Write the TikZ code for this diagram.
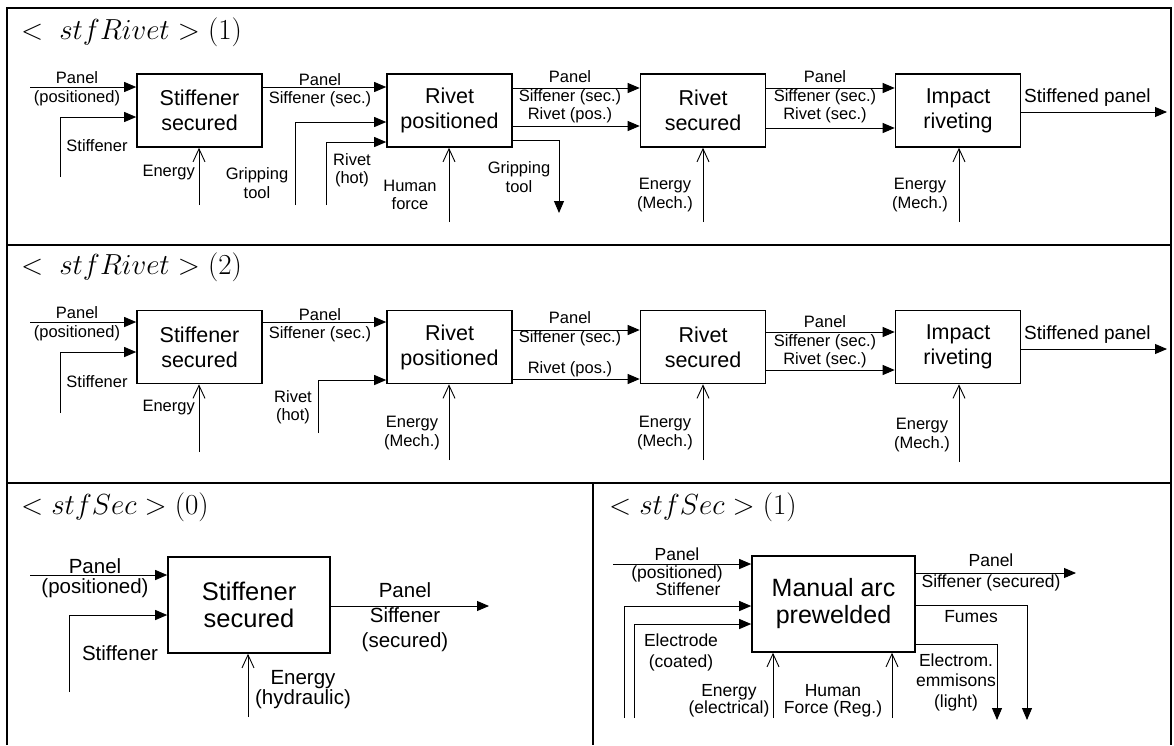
\RequirePackage{fix-cm}
\documentclass[tikz,border=0pt]{standalone}
\usepackage{fontspec}
\setmainfont{Liberation Sans}
\usetikzlibrary{arrows.meta}

\begin{document}
\begin{tikzpicture}[x=1pt, y=-1pt,
    frame/.style={line width=2pt},
    title/.style={anchor=west, inner sep=0pt, font=\fontsize{29}{34}\selectfont},
    proc/.style={draw, line width=1.6pt, align=center, inner sep=0pt,
      minimum width=125pt, minimum height=73pt, font=\fontsize{21.5}{25}\selectfont},
    lbl/.style={align=center, inner sep=0pt, font=\fontsize{16.5}{18.5}\selectfont},
    flow/.style={line width=0.9pt, -{Triangle[length=12pt,width=10pt]}},
    ctrl/.style={line width=0.9pt, -{Straight Barb[length=13pt,width=12pt]}}]
    \useasboundingbox (0,0) rectangle (1174,745);

    % Frame
    \draw[frame] (7,745) -- (7,8) -- (1171,8) -- (1171,745);
    \draw[frame] (7,245) -- (1171,245);
    \draw[frame] (7,483) -- (1171,483);
    \draw[frame] (593,483) -- (593,745);

    % Titles
    \node[title] (t1) at (21,32) {$<\ stfRivet > (1)$};
    \node[title] (t2) at (21,267) {$<\ stfRivet > (2)$};
    \node[title] (t3) at (21,507) {$< stfSec > (0)$};
    \node[title] (t4) at (609,507) {$< stfSec > (1)$};

    % Coordinates
    \coordinate (r1p) at (30,87);
    \coordinate (r1s) at (60,177);
    \coordinate (r1e1) at (199,205);
    \coordinate (r1g) at (295,205);
    \coordinate (r1r) at (326,205);
    \coordinate (r1e2) at (449,222);
    \coordinate (r1go) at (559,213);
    \coordinate (r1e3) at (703,222);
    \coordinate (r1e4) at (959,222);
    \coordinate (r1o) at (1167,112);

    \coordinate (r2p) at (30,322);
    \coordinate (r2s) at (60,413);
    \coordinate (r2e1) at (199,452);
    \coordinate (r2r) at (318,433);
    \coordinate (r2e2) at (449,460);
    \coordinate (r2e3) at (703,460);
    \coordinate (r2e4) at (959,462);
    \coordinate (r2o) at (1167,349);

    \coordinate (r3p) at (30,575);
    \coordinate (r3s) at (69,692);
    \coordinate (r3e) at (248,717);
    \coordinate (r3o) at (489,606);

    \coordinate (r4p) at (613,564);
    \coordinate (r4s) at (624,718);
    \coordinate (r4el) at (634,718);
    \coordinate (r4e) at (773,718);
    \coordinate (r4h) at (892,718);
    \coordinate (r4o) at (1076,573);
    \coordinate (r4f) at (1027,720);
    \coordinate (r4m) at (997,720);

    % Boxes
    \node[proc] (r1a) at (199.5,110.5) {Stiffener\\secured};
    \node[proc] (r1b) at (449.5,110.5) {Rivet\\positioned};
    \node[proc] (r1c) at (703,110.5) {Rivet\\secured};
    \node[proc] (r1d) at (958,110.5) {Impact\\riveting};

    \node[proc] (r2a) at (199.5,347) {Stiffener\\secured};
    \node[proc] (r2b) at (449.5,347) {Rivet\\positioned};
    \node[proc] (r2c) at (703,347) {Rivet\\secured};
    \node[proc] (r2d) at (958,347) {Impact\\riveting};

    \node[proc, minimum width=162pt, minimum height=96pt,
      font=\fontsize{25.5}{27}\selectfont] (r3a) at (249,605) {Stiffener\\secured};
    \node[proc, minimum width=163pt, minimum height=96pt,
      font=\fontsize{25}{27}\selectfont] (r4a) at (833.5,604) {Manual arc\\prewelded};

    % Drawing
    \draw[flow] (r1p) -- (r1p -| r1a.west);
    \draw[flow] (r1s) |- ([yshift=-6.5pt]r1a.west);
    \draw[ctrl] (r1e1) -- (r1e1 |- r1a.south);
    \draw[flow] ([yshift=23.5pt]r1a.east) -- ([yshift=23.5pt]r1b.west);
    \draw[flow] (r1g) |- ([yshift=-11.5pt]r1b.west);
    \draw[flow] (r1r) |- ([yshift=-31.5pt]r1b.west);
    \draw[ctrl] (r1e2) -- (r1e2 |- r1b.south);
    \draw[flow] ([yshift=-29.5pt]r1b.east) -| (r1go);
    \draw[flow] ([yshift=22.5pt]r1b.east) -- ([yshift=22.5pt]r1c.west);
    \draw[flow] ([yshift=-15.5pt]r1b.east) -- ([yshift=-15.5pt]r1c.west);
    \draw[ctrl] (r1e3) -- (r1e3 |- r1c.south);
    \draw[flow] ([yshift=22.5pt]r1c.east) -- ([yshift=22.5pt]r1d.west);
    \draw[flow] ([yshift=-17.5pt]r1c.east) -- ([yshift=-17.5pt]r1d.west);
    \draw[ctrl] (r1e4) -- (r1e4 |- r1d.south);
    \draw[flow] (r1o -| r1d.east) -- (r1o);

    \draw[flow] (r2p) -- (r2p -| r2a.west);
    \draw[flow] (r2s) |- ([yshift=-5pt]r2a.west);
    \draw[ctrl] (r2e1) -- (r2e1 |- r2a.south);
    \draw[flow] ([yshift=25pt]r2a.east) -- ([yshift=25pt]r2b.west);
    \draw[flow] (r2r) |- ([yshift=-33pt]r2b.west);
    \draw[ctrl] (r2e2) -- (r2e2 |- r2b.south);
    \draw[flow] ([yshift=17pt]r2b.east) -- ([yshift=17pt]r2c.west);
    \draw[flow] ([yshift=-32pt]r2b.east) -- ([yshift=-32pt]r2c.west);
    \draw[ctrl] (r2e3) -- (r2e3 |- r2c.south);
    \draw[flow] ([yshift=15pt]r2c.east) -- ([yshift=15pt]r2d.west);
    \draw[flow] ([yshift=-23pt]r2c.east) -- ([yshift=-23pt]r2d.west);
    \draw[ctrl] (r2e4) -- (r2e4 |- r2d.south);
    \draw[flow] (r2o -| r2d.east) -- (r2o);

    \draw[flow] (r3p) -- (r3p -| r3a.west);
    \draw[flow] (r3s) |- ([yshift=-10pt]r3a.west);
    \draw[ctrl] (r3e) -- (r3e |- r3a.south);
    \draw[flow] (r3o -| r3a.east) -- (r3o);

    \draw[flow] (r4p) -- (r4p -| r4a.west);
    \draw[flow] (r4s) |- ([yshift=-2pt]r4a.west);
    \draw[flow] (r4el) |- ([yshift=-20pt]r4a.west);
    \draw[ctrl] (r4e) -- (r4e |- r4a.south);
    \draw[ctrl] (r4h) -- (r4h |- r4a.south);
    \draw[flow] (r4o -| r4a.east) -- (r4o);
    \draw[flow] ([yshift=-1pt]r4a.east) -| (r4f);
    \draw[flow] ([yshift=-40pt]r4a.east) -| (r4m);

    % Labels
    \node[lbl] (l1a) at (77,88.5) {Panel\\(positioned)};
    \node[lbl] (l1b) at (97,146) {Stiffener};
    \node[lbl, anchor=east] (l1c) at (195,173) {Energy};
    \node[lbl] (l1d) at (320,90) {Panel\\Siffener (sec.)};
    \node[lbl] (l1e) at (257,183) {Gripping\\tool};
    \node[lbl] (l1f) at (352,170) {Rivet\\(hot)};
    \node[lbl] (l1g) at (410,195) {Human\\force};
    \node[lbl] (l1h) at (519,177) {Gripping\\tool};
    \node[lbl] (l1i) at (570,97) {Panel\\Siffener (sec.)\\Rivet (pos.)};
    \node[lbl] (l1j) at (665,195) {Energy\\(Mech.)};
    \node[lbl] (l1k) at (825,97) {Panel\\Siffener (sec.)\\Rivet (sec.)};
    \node[lbl] (l1l) at (920,195) {Energy\\(Mech.)};
    \node[lbl, anchor=west, font=\fontsize{19}{22}\selectfont] (l1m) at (1024,98) {Stiffened panel};

    \node[lbl] (l2a) at (77,323.5) {Panel\\(positioned)};
    \node[lbl] (l2b) at (97,382) {Stiffener};
    \node[lbl, anchor=east] (l2c) at (195,408) {Energy};
    \node[lbl] (l2d) at (320,325) {Panel\\Siffener (sec.)};
    \node[lbl] (l2e) at (293,407) {Rivet\\(hot)};
    \node[lbl] (l2f) at (412,433) {Energy\\(Mech.)};
    \node[lbl] (l2g) at (570,328.5) {Panel\\Siffener (sec.)};
    \node[lbl] (l2h) at (570,369) {Rivet (pos.)};
    \node[lbl] (l2i) at (665,433) {Energy\\(Mech.)};
    \node[lbl] (l2j) at (825,342) {Panel\\Siffener (sec.)\\Rivet (sec.)};
    \node[lbl] (l2k) at (922,435) {Energy\\(Mech.)};
    \node[lbl, anchor=west, font=\fontsize{19}{22}\selectfont] (l2l) at (1024,335) {Stiffened panel};

    \node[lbl, font=\fontsize{20.5}{20}\selectfont] (l3a) at (95,578) {Panel\\(positioned)};
    \node[lbl, font=\fontsize{20.5}{25}\selectfont] (l3b) at (120,653) {Stiffener};
    \node[lbl, font=\fontsize{20.5}{20}\selectfont] (l3c) at (303,690) {Energy\\(hydraulic)};
    \node[lbl, font=\fontsize{20.5}{25}\selectfont] (l3d) at (405,617) {Panel\\Siffener\\(secured)};

    \node[lbl, anchor=south, font=\fontsize{17.5}{20}\selectfont] (l4a) at (677,561) {Panel};
    \node[lbl, anchor=north, font=\fontsize{17.5}{20}\selectfont] (l4b) at (677,566) {(positioned)};
    \node[lbl, anchor=north, font=\fontsize{17.5}{20}\selectfont] (l4c) at (688,583) {Stiffener};
    \node[lbl, font=\fontsize{17.5}{21}\selectfont] (l4d) at (681,652) {Electrode\\(coated)};
    \node[lbl, font=\fontsize{17.5}{17.5}\selectfont] (l4e) at (729,701) {Energy\\(electrical)};
    \node[lbl, font=\fontsize{17.5}{17.5}\selectfont] (l4f) at (833,701) {Human\\Force (Reg.)};
    \node[lbl, font=\fontsize{17.5}{21}\selectfont] (l4g) at (991,572) {Panel\\Siffener (secured)};
    \node[lbl, font=\fontsize{17.5}{20}\selectfont] (l4h) at (971,617) {Fumes};
    \node[lbl, font=\fontsize{17.5}{20.5}\selectfont] (l4i) at (956,682) {Electrom.\\emmisons\\(light)};
\end{tikzpicture}
\end{document}
